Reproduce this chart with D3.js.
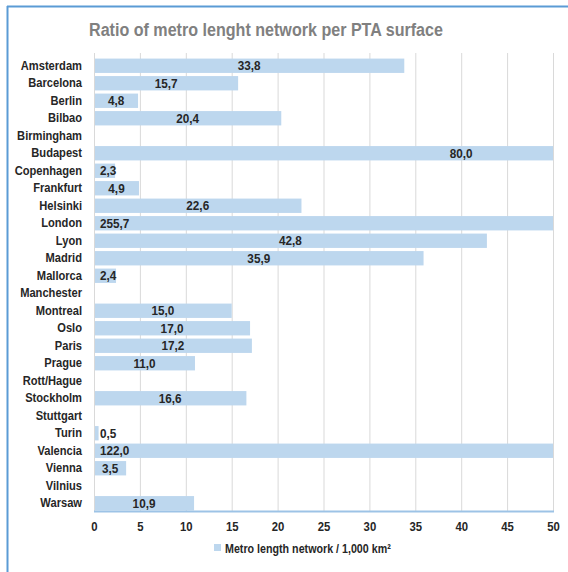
<!DOCTYPE html>
<html>
<head>
<meta charset="utf-8">
<script src="https://cdn.jsdelivr.net/npm/d3@7"></script>
<style>
  html, body { margin: 0; padding: 0; background: #fff; }
  svg { display: block; }
  text { font-family: "Liberation Sans", Arial, sans-serif; font-weight: bold; }
</style>
</head>
<body>
<svg id="chart" width="568" height="572"></svg>
<script>
// Metro length network per 1,000 km² of PTA surface, by city
const cities = ["Amsterdam", "Barcelona", "Berlin", "Bilbao", "Birmingham", "Budapest",
  "Copenhagen", "Frankfurt", "Helsinki", "London", "Lyon", "Madrid", "Mallorca",
  "Manchester", "Montreal", "Oslo", "Paris", "Prague", "Rott/Hague", "Stockholm",
  "Stuttgart", "Turin", "Valencia", "Vienna", "Vilnius", "Warsaw"];
const ratios = [33.8, 15.7, 4.8, 20.4, null, 80.0,
  2.3, 4.9, 22.6, 255.7, 42.8, 35.9, 2.4,
  null, 15.0, 17.0, 17.2, 11.0, null, 16.6,
  null, 0.5, 122.0, 3.5, null, 10.9];
const xTicks = [0, 5, 10, 15, 20, 25, 30, 35, 40, 45, 50];
const chartTitle = "Ratio of metro lenght network per PTA surface";
const seriesName = "Metro length network / 1,000 km²";

// condensed look: squeeze glyphs horizontally around the anchor point
const SQUEEZE = 0.87;
function place(sel, fx, fy) {
  sel.attr("transform", (d, i) => `translate(${fx(d, i)},${fy(d, i)}) scale(${SQUEEZE},1)`);
}

const svg = d3.select("#chart");
const plot = { left: 94, right: 553, top: 53, bottom: 511 };

// frame lines (left and top edges)
svg.append("line").attr("x1", 7.5).attr("x2", 7.5).attr("y1", 6).attr("y2", 572)
  .attr("stroke", "#5b9bd5").attr("stroke-width", 2);
svg.append("line").attr("x1", 7).attr("x2", 568).attr("y1", 6.5).attr("y2", 6.5)
  .attr("stroke", "#5b9bd5").attr("stroke-width", 2);

svg.append("text").attr("text-anchor", "middle")
  .attr("font-size", 18.5).attr("fill", "#808080").text(chartTitle)
  .call(place, () => 266, () => 36);

const x = d3.scaleLinear().domain([0, 50]).range([plot.left, plot.right]).clamp(true);
const y = d3.scaleBand().domain(cities).range([56, plot.bottom]).paddingInner(0.18).paddingOuter(0.09);

// vertical gridlines
svg.append("g").selectAll("line").data(xTicks).join("line")
  .attr("x1", d => x(d) + 0.5).attr("x2", d => x(d) + 0.5)
  .attr("y1", plot.top).attr("y2", plot.bottom)
  .attr("stroke", "#d9d9d9").attr("stroke-width", 1);

// bars
const data = cities.map((c, i) => ({ city: c, value: ratios[i] }));
svg.append("g").selectAll("rect").data(data.filter(d => d.value != null)).join("rect")
  .attr("x", x(0) + 1)
  .attr("y", d => y(d.city) + 1)
  .attr("width", d => x(d.value) - x(0) - 1)
  .attr("height", y.bandwidth())
  .attr("fill", "#bdd7ee");

// value labels, centred on the bar, kept inside the plot
const fmt = v => d3.format(".1f")(v).replace(".", ",");
const labels = svg.append("g").selectAll("text").data(data.filter(d => d.value != null)).join("text")
  .attr("font-size", 13.5).attr("fill", "#262626")
  .attr("text-anchor", "middle")
  .text(d => fmt(d.value));
labels.each(function(d) {
  const w = this.getComputedTextLength() * SQUEEZE;
  const minC = plot.left + 6 + w / 2;
  const centre = plot.left + (d.value / 2) * (plot.right - plot.left) / 50;
  const cx = centre > plot.right ? minC : Math.max(centre, minC);
  d3.select(this).call(place, () => cx, () => y(d.city) + y.bandwidth() / 2 + 5.5);
});

// category axis labels
svg.append("g").selectAll("text").data(cities).join("text")
  .attr("text-anchor", "end").attr("font-size", 12.8).attr("fill", "#262626")
  .text(d => d)
  .call(place, () => 82, d => y(d) + y.bandwidth() / 2 + 5);

// value axis
svg.append("line").attr("x1", plot.left).attr("x2", plot.right + 1)
  .attr("y1", plot.bottom + 0.5).attr("y2", plot.bottom + 0.5)
  .attr("stroke", "#9dc3e6").attr("stroke-width", 2);
svg.append("g").selectAll("text").data(xTicks).join("text")
  .attr("text-anchor", "middle").attr("font-size", 13).attr("fill", "#262626")
  .text(d => d)
  .call(place, d => x(d) + 0.5, () => 531);

// legend
svg.append("rect").attr("x", 214).attr("y", 544).attr("width", 7).attr("height", 7).attr("fill", "#bdd7ee");
svg.append("text").attr("font-size", 12.3).attr("fill", "#262626").text(seriesName)
  .call(place, () => 225, () => 552.5);
</script>
</body>
</html>
